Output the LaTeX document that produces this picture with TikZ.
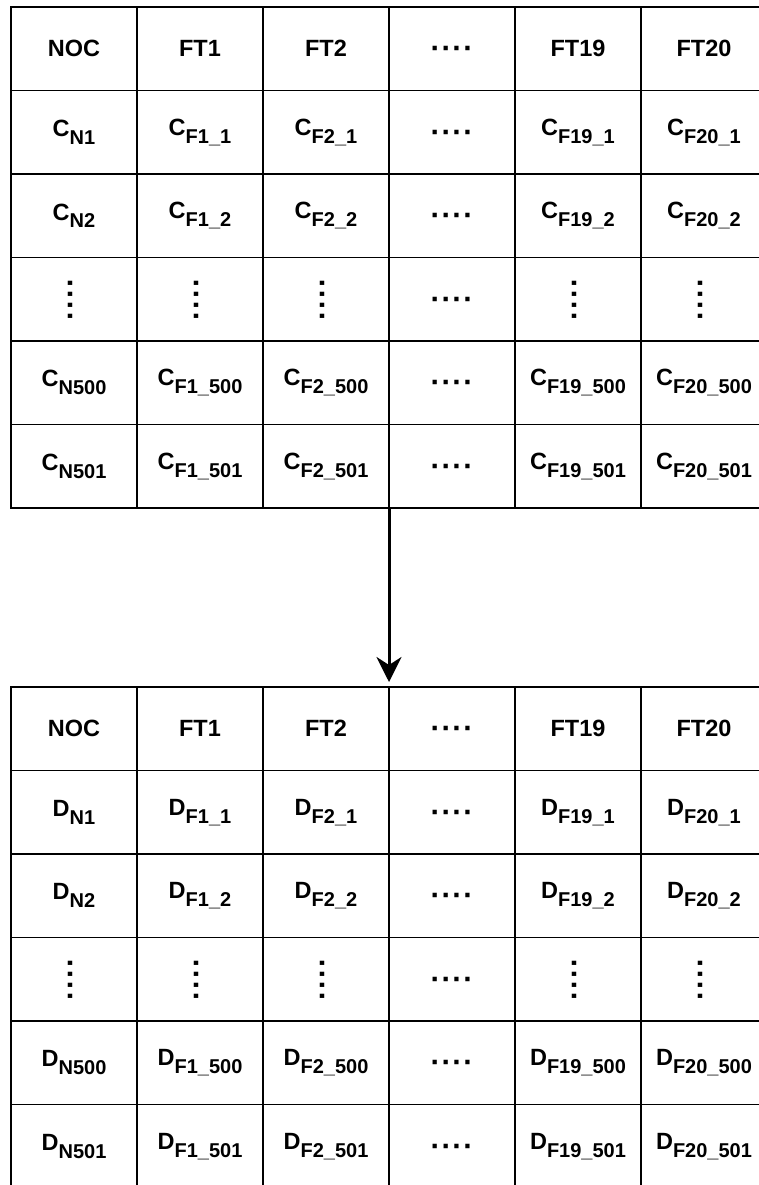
\documentclass[tikz,border=0pt]{standalone}
\usepackage{fontspec}
\setmainfont{Liberation Sans}
\usetikzlibrary{arrows.meta}

% lowered, smaller index text
\newcommand{\subtxt}[1]{\raisebox{-7.8pt}{\fontsize{20pt}{22pt}\selectfont #1}}
% four heavy dots in a line
\newcommand{\dotline}{{\fontsize{30pt}{30pt}\selectfont ·\kern1pt·\kern1pt·\kern1pt·}}
% horizontal dots, centred on the cell middle
\newcommand{\rowdots}{\raisebox{-10pt}[0pt][0pt]{\dotline}}
% vertical dots
\newcommand{\coldots}{\rotatebox{90}{\dotline}}

\tikzset{
  cell/.style={draw, line width=1.8pt, minimum width=126pt, minimum height=83.5pt,
    inner sep=0pt, outer sep=0pt, anchor=north west,
    font=\fontsize{23.5pt}{26pt}\selectfont\bfseries},
  flow/.style={line width=3pt, -{Stealth[length=25pt,width=25pt,inset=8pt]}, shorten >=5pt}
}

% #1 node prefix, #2 letter of the values, #3 top edge
\newcommand{\drawdatatable}[3]{%
  \foreach \c/\h in {1/NOC,2/FT1,3/FT2,4/\rowdots,5/FT19,6/FT20}
    \node[cell] (#1-1-\c) at ({11+(\c-1)*126},#3) {\h};
  \foreach \r/\s in {2/1,3/2,5/500,6/501} {
    \node[cell] (#1-\r-1) at (11,{#3+(\r-1)*83.5}) {#2\subtxt{N\s}};
    \foreach \c/\f in {2/1,3/2,5/19,6/20}
      \node[cell] (#1-\r-\c) at ({11+(\c-1)*126},{#3+(\r-1)*83.5}) {#2\subtxt{F\f\_\s}};
    \node[cell] (#1-\r-4) at ({11+3*126},{#3+(\r-1)*83.5}) {\rowdots};
  }
  \foreach \c in {1,2,3,5,6}
    \node[cell] (#1-4-\c) at ({11+(\c-1)*126},{#3+3*83.5}) {\coldots};
  \node[cell] (#1-4-4) at ({11+3*126},{#3+3*83.5}) {\rowdots};
}

\begin{document}
\begin{tikzpicture}[x=1pt,y=-1pt]
  \useasboundingbox (0,0) rectangle (759,1185);
  \clip (0,0) rectangle (759,1185);
  \fill[white] (0,0) rectangle (759,1185);

  \drawdatatable{t}{C}{7}
  \drawdatatable{b}{D}{687}

  \draw[flow] (t-6-3.south east) -- (b-1-3.north east);
\end{tikzpicture}
\end{document}
